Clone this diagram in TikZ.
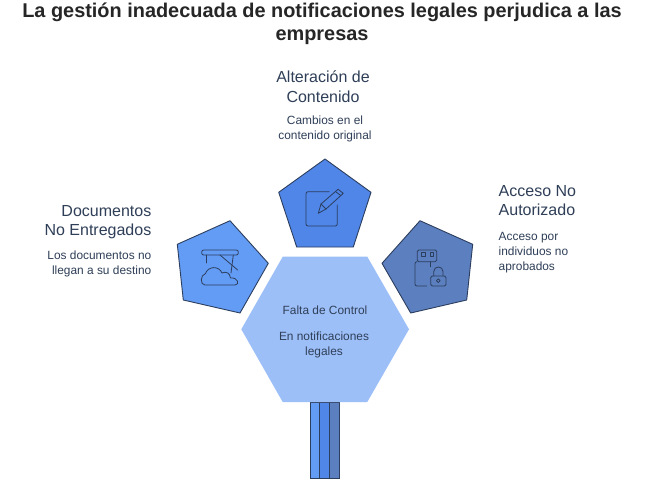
\documentclass[tikz,border=0pt]{standalone}
\usepackage{fontspec}
\setmainfont{Liberation Sans}
\definecolor{txt}{HTML}{2F3F58}
\definecolor{edge}{HTML}{2C3E5E}
\definecolor{pblue}{HTML}{4F86E8}
\definecolor{lblue}{HTML}{639CF5}
\definecolor{dblue}{HTML}{5B7FBF}
\definecolor{hexb}{HTML}{9DBFF8}
\tikzset{
  pent/.style={draw=edge,line width=0.9pt,line join=round},
  icon/.style={draw=edge,line width=0.8pt,line cap=round,line join=round,fill=none},
  head/.style={font=\fontsize{16}{19.5}\selectfont,text=txt,inner sep=0pt},
  desc/.style={font=\fontsize{11.9}{15}\selectfont,text=txt,inner sep=0pt},
  bar/.style={draw=edge,line width=0.7pt}
}
\begin{document}
\begin{tikzpicture}[x=1pt,y=-1pt]
\useasboundingbox (0,0) rectangle (650,488);
\fill[white] (0,0) rectangle (650,488);
% bars
\draw[bar,fill=lblue] (310,402) rectangle (319.3,478.3);
\draw[bar,fill=pblue] (319.3,402) rectangle (329.3,478.3);
\draw[bar,fill=dblue] (329.3,402) rectangle (339,478.3);
% hexagon
\fill[hexb] (282.7,256.7) -- (367.3,256.7) -- (409,329.3) -- (367.3,402) -- (282.7,402) -- (241.3,329.3) -- cycle;
% pentagons
\draw[pent,fill=pblue] (325,159) -- (371,192.3) -- (353.3,247) -- (296.7,247) -- (278.7,192.3) -- cycle;
\draw[pent,fill=lblue] (230,220.7) -- (268.3,263.3) -- (240,313) -- (183.3,300) -- (177.3,244.3) -- cycle;
\draw[pent,fill=dblue] (420,220.7) -- (472.7,244.3) -- (466.7,300) -- (410.7,313) -- (382,263.3) -- cycle;
% pencil icon
\draw[icon,rounded corners=2pt] (329.3,191.7) -- (306,191.7) -- (306,226) -- (337.3,226) -- (337.3,205);
\draw[icon] (318.3,213.3) -- (321,204) -- (338,189.3) -- (343.3,193.3) -- (326,209) -- cycle;
\draw[icon] (321,204) -- (326,209);
\draw[icon] (335.5,191.5) -- (340.8,195.5);
% cloud icon
\draw[icon,rounded corners=2pt] (201.7,250) rectangle (238.3,255);
\draw[icon] (206.7,255) -- (206.7,263);
\draw[icon] (233.3,255) -- (231,273);
\draw[icon] (220,255) -- (237.7,270);
\draw[icon] (205,285) .. controls (200,285) and (200,275) .. (205.5,273.5) .. controls (208,266) and (219,265.5) .. (222,273) .. controls (226,271) and (230,273) .. (230.5,278) .. controls (238,277) and (240,285) .. (235,285) -- cycle;
% usb + lock icon
\draw[icon,rounded corners=1.5pt] (417.3,250) rectangle (436.7,261.7);
\draw[icon] (421.7,252.7) rectangle (425,256);
\draw[icon] (430,252.7) rectangle (433.3,256);
\draw[icon,rounded corners=2pt] (417.3,261.7) -- (415,261.7) -- (415,286) -- (426.7,286);
\draw[icon] (430,261.7) -- (430,266.7);
\draw[icon,rounded corners=1.5pt] (430.7,276) rectangle (446,286);
\draw[icon] (433.8,276) -- (433.8,271.5) .. controls (433.8,265.5) and (443,265.5) .. (443,271.5) -- (443,276);
\draw[icon] (438.3,280.7) circle (1.9);
% texts
\node[inner sep=0pt,align=center,text=black!85,font=\bfseries\fontsize{19.9}{23}\selectfont] (title) at (322,24) {La gestión inadecuada de notificaciones legales perjudica a las\\empresas};
\node[head,align=center] (h1) at (323,86.5) {Alteración de\\Contenido};
\node[desc,align=center] (d1) at (325,129) {Cambios en el\\contenido original};
\node[head,align=right,anchor=east] (h2) at (151.5,222) {Documentos\\No Entregados};
\node[desc,align=right,anchor=east] (d2) at (151.5,264) {Los documentos no\\llegan a su destino};
\node[head,align=left,anchor=west] (h3) at (498.5,200.5) {Acceso No\\Autorizado};
\node[desc,align=left,anchor=west] (d3) at (498.5,253) {Acceso por\\individuos no\\aprobados};
\node[desc] (h4) at (325,310) {Falta de Control};
\node[desc,align=center] (d4) at (324,344.5) {En notificaciones\\legales};
\end{tikzpicture}
\end{document}
